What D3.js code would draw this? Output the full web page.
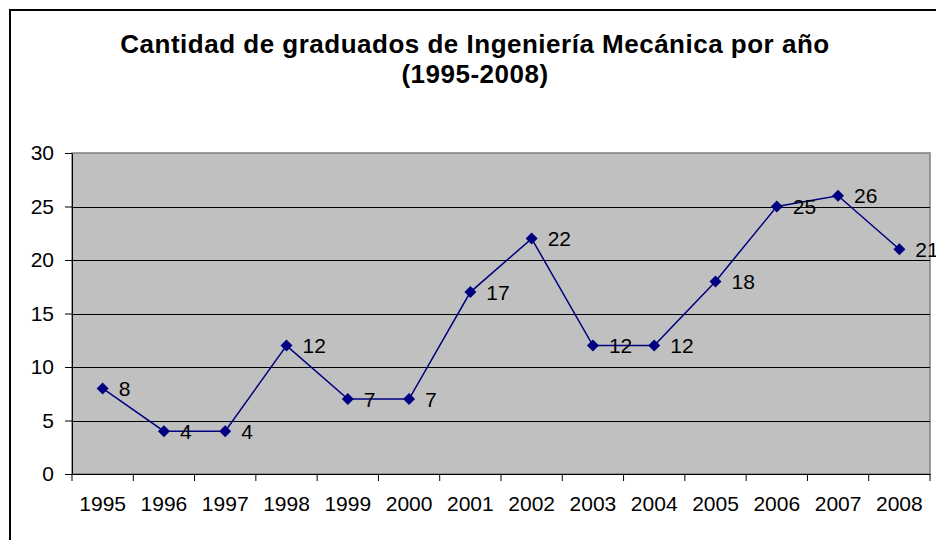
<!DOCTYPE html>
<html>
<head>
<meta charset="utf-8">
<script src="https://cdn.jsdelivr.net/npm/d3@7"></script>
<style>
  body { margin: 0; background: #fff; }
  svg text { font-family: "Liberation Sans", Arial, sans-serif; }
</style>
</head>
<body>
<div id="chart"></div>
<script>
const years = ['1995','1996','1997','1998','1999','2000','2001','2002','2003','2004','2005','2006','2007','2008'];
const graduados = [8, 4, 4, 12, 7, 7, 17, 22, 12, 12, 18, 25, 26, 21];
const yTicks = [0, 5, 10, 15, 20, 25, 30];
const titleLines = ['Cantidad de graduados de Ingeniería Mecánica por año', '(1995-2008)'];

const w = 936;
const h = 540;
const plot = {left: 72, right: 930, top: 153, bottom: 474};
const fontFam = '"Liberation Sans", Arial, sans-serif';

const svg = d3.select('#chart')
    .append('svg')
    .attr('width', w)
    .attr('height', h);

// chart frame
svg.append('rect')
    .attr('x', 10).attr('y', 10)
    .attr('width', w).attr('height', h)
    .attr('fill', '#fff')
    .attr('stroke', '#000')
    .attr('stroke-width', 2);

svg.selectAll('text.title')
    .data(titleLines)
    .enter()
    .append('text')
    .attr('class', 'title')
    .attr('x', 475)
    .attr('y', (d, i) => 53 + i * 30)
    .attr('text-anchor', 'middle')
    .attr('font-size', 26)
    .attr('font-weight', 'bold')
    .attr('letter-spacing', 0.5)
    .text(d => d);

const xScale = d3.scaleBand().domain(years).range([plot.left, plot.right]);
const yScale = d3.scaleLinear().domain([0, 30]).range([plot.bottom, plot.top]);

svg.append('rect')
    .attr('x', plot.left).attr('y', plot.top)
    .attr('width', plot.right - plot.left)
    .attr('height', plot.bottom - plot.top)
    .attr('fill', '#c0c0c0')
    .attr('stroke', '#808080')
    .attr('stroke-width', 1.5);

// gridlines
svg.selectAll('line.grid')
    .data(yTicks.slice(1, -1))
    .enter()
    .append('line')
    .attr('class', 'grid')
    .attr('x1', plot.left).attr('x2', plot.right)
    .attr('y1', d => Math.round(yScale(d)) + 0.5)
    .attr('y2', d => Math.round(yScale(d)) + 0.5)
    .attr('stroke', '#000')
    .attr('stroke-width', 1);

// y axis
const yAxis = svg.append('g')
    .attr('transform', `translate(${plot.left},0)`)
    .call(d3.axisLeft(yScale).tickValues(yTicks).tickSize(7).tickPadding(11).tickSizeOuter(0));
yAxis.selectAll('text').attr('font-size', 21).attr('fill', '#000')
    .style('font-family', fontFam);
yAxis.selectAll('line, path').attr('stroke', '#000');

// x axis
const xAxis = svg.append('g')
    .attr('transform', `translate(0,${plot.bottom})`)
    .call(d3.axisBottom(xScale).tickSize(0).tickPadding(22));
xAxis.selectAll('text').attr('font-size', 21).attr('fill', '#000')
    .style('font-family', fontFam);
xAxis.select('path').attr('stroke', '#000');
xAxis.selectAll('line.sep')
    .data(d3.range(years.length + 1))
    .enter()
    .append('line')
    .attr('class', 'sep')
    .attr('x1', i => plot.left + i * xScale.step())
    .attr('x2', i => plot.left + i * xScale.step())
    .attr('y1', 0).attr('y2', 7)
    .attr('stroke', '#000');

const cx = d => xScale(d) + xScale.bandwidth() / 2;

svg.append('path')
    .datum(graduados)
    .attr('fill', 'none')
    .attr('stroke', '#000080')
    .attr('stroke-width', 1.5)
    .attr('d', d3.line().x((d, i) => cx(years[i])).y(d => yScale(d)));

svg.selectAll('path.mark')
    .data(graduados)
    .enter()
    .append('path')
    .attr('class', 'mark')
    .attr('transform', (d, i) => `translate(${cx(years[i])},${yScale(d)})`)
    .attr('d', 'M0,-6L6,0L0,6L-6,0Z')
    .attr('fill', '#000080');

svg.selectAll('text.lbl')
    .data(graduados)
    .enter()
    .append('text')
    .attr('class', 'lbl')
    .attr('x', (d, i) => cx(years[i]) + 16)
    .attr('y', d => yScale(d) + 7.5)
    .attr('font-size', 21)
    .text(d => d);
</script>
</body>
</html>
